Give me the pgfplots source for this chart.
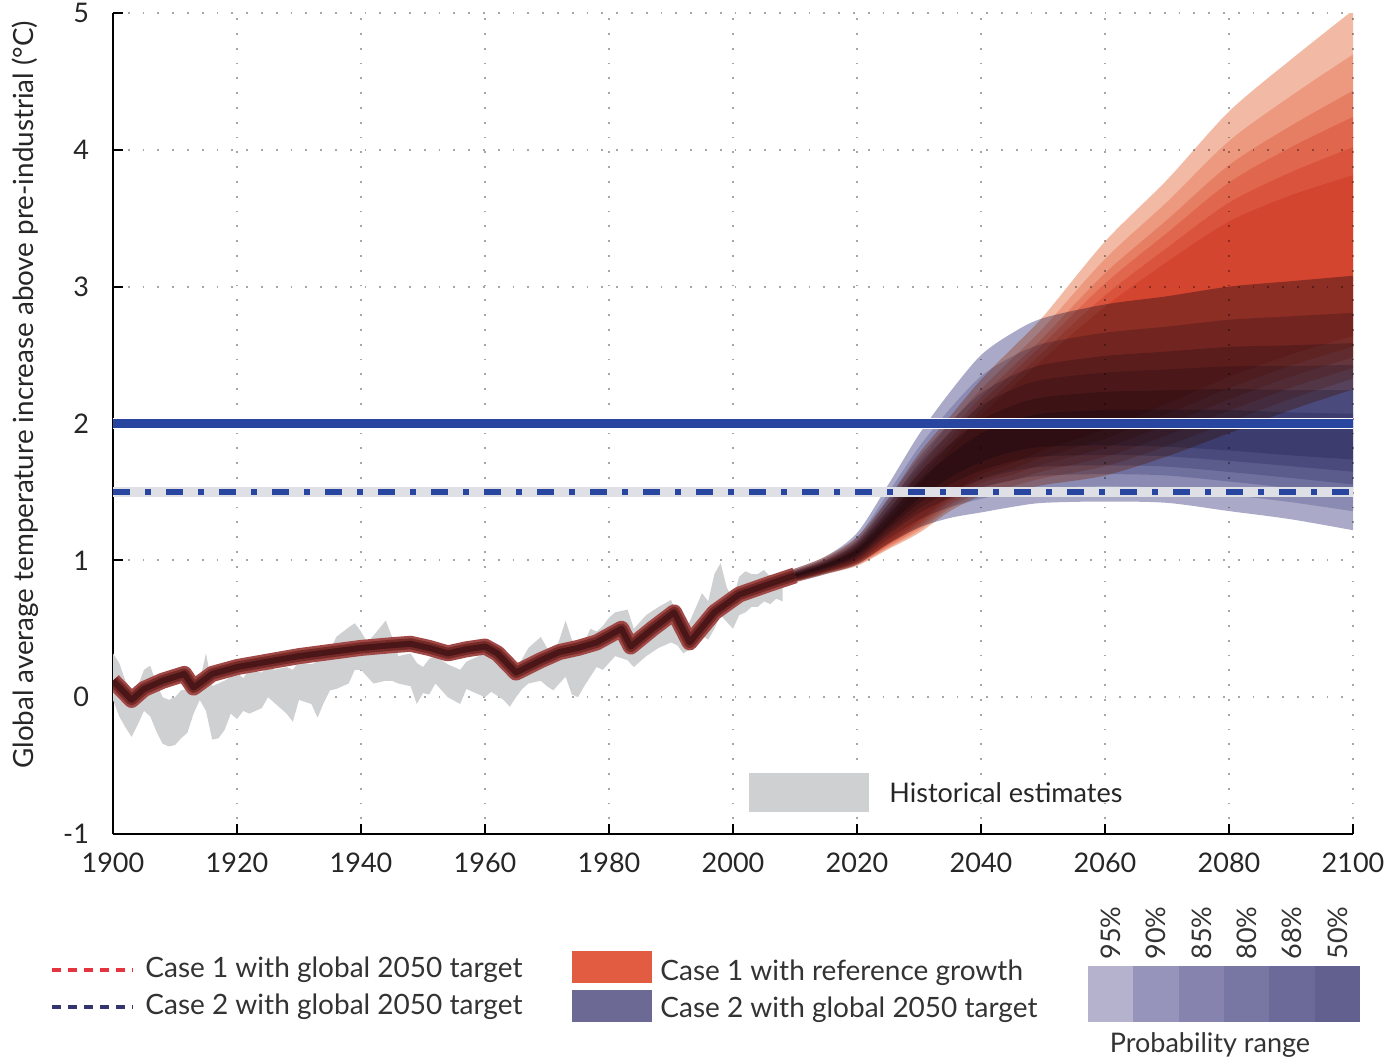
\documentclass[border=0pt]{standalone}
\usepackage{fontspec}
\setmainfont{Lato}
\usepackage{pgfplots}
\pgfplotsset{compat=1.18}
\usepackage{pgfplotstable}
\usepgfplotslibrary{fillbetween}

\definecolor{r1}{RGB}{242,186,164}
\definecolor{rL}{RGB}{249,210,200}
\definecolor{b1}{RGB}{170,170,200}
\definecolor{bL}{RGB}{208,208,227}
\definecolor{histgray}{RGB}{206,208,210}
\definecolor{modelout}{RGB}{160,72,70}
\definecolor{modelmid}{RGB}{118,42,40}
\definecolor{modelin}{RGB}{74,22,24}
\definecolor{lineblue}{RGB}{40,70,160}
\definecolor{dashbg}{RGB}{222,224,230}
\definecolor{legred}{RGB}{226,92,66}
\definecolor{legblue}{RGB}{108,106,148}
\definecolor{dashred}{RGB}{228,52,62}
\definecolor{dashblue}{RGB}{52,52,110}
\definecolor{p95}{RGB}{180,178,204}
\definecolor{p90}{RGB}{150,148,186}
\definecolor{p85}{RGB}{134,132,174}
\definecolor{p80}{RGB}{120,118,162}
\definecolor{p68}{RGB}{108,106,152}
\definecolor{p50}{RGB}{98,96,142}

% Case 1 with reference growth: probability ranges
\pgfplotstableread{
yr l95 u95 l90 u90 l85 u85 l80 u80 l68 u68 l50 u50
2005 0.79 0.87 0.792 0.86 0.795 0.854 0.797 0.849 0.80 0.843 0.802 0.837
2010 0.84 0.94 0.843 0.929 0.846 0.92 0.849 0.914 0.852 0.906 0.855 0.899
2015 0.90 1.03 0.904 1.015 0.907 1.002 0.911 0.993 0.914 0.982 0.918 0.973
2020 0.96 1.17 0.966 1.146 0.972 1.126 0.978 1.112 0.984 1.095 0.99 1.08
2025 1.08 1.45 1.09 1.406 1.10 1.37 1.111 1.344 1.121 1.314 1.131 1.286
2030 1.2 1.78 1.218 1.718 1.236 1.668 1.254 1.632 1.272 1.59 1.29 1.55
2035 1.36 2.05 1.383 2.0 1.406 1.94 1.43 1.891 1.453 1.846 1.476 1.804
2040 1.47 2.32 1.502 2.25 1.534 2.192 1.565 2.15 1.597 2.102 1.629 2.058
2045 1.5 2.55 1.542 2.473 1.584 2.41 1.626 2.365 1.668 2.312 1.71 2.263
2050 1.55 2.78 1.601 2.696 1.652 2.628 1.703 2.579 1.754 2.522 1.805 2.468
2060 1.62 3.33 1.688 3.202 1.756 3.098 1.823 3.023 1.891 2.936 1.959 2.854
2070 1.76 3.78 1.837 3.619 1.915 3.488 1.992 3.393 2.07 3.284 2.147 3.181
2080 1.93 4.28 2.012 4.064 2.094 3.888 2.177 3.761 2.259 3.614 2.341 3.476
2090 2.1 4.66 2.181 4.394 2.262 4.176 2.343 4.019 2.424 3.837 2.505 3.668
2100 2.25 5.02 2.328 4.697 2.406 4.432 2.484 4.241 2.562 4.02 2.64 3.815
}\redfan

% Case 2 with global 2050 target: probability ranges
\pgfplotstableread{
yr l95 u95 l90 u90 l85 u85 l80 u80 l68 u68 l50 u50
2005 0.79 0.87 0.80 0.86 0.806 0.854 0.811 0.849 0.817 0.843 0.823 0.837
2010 0.84 0.94 0.851 0.929 0.86 0.92 0.866 0.914 0.874 0.906 0.881 0.899
2015 0.90 1.03 0.913 1.015 0.924 1.002 0.932 0.993 0.941 0.982 0.949 0.973
2020 0.97 1.2 0.99 1.169 1.006 1.144 1.018 1.126 1.031 1.105 1.044 1.085
2025 1.12 1.55 1.155 1.491 1.184 1.442 1.205 1.407 1.229 1.366 1.251 1.329
2030 1.24 1.92 1.297 1.828 1.344 1.752 1.378 1.697 1.417 1.634 1.453 1.576
2035 1.31 2.23 1.389 2.107 1.454 2.006 1.501 1.933 1.555 1.849 1.605 1.771
2040 1.35 2.5 1.449 2.346 1.53 2.22 1.589 2.129 1.656 2.024 1.719 1.926
2045 1.39 2.66 1.498 2.488 1.586 2.348 1.65 2.247 1.723 2.13 1.792 2.02
2050 1.42 2.77 1.53 2.583 1.62 2.43 1.685 2.32 1.76 2.192 1.83 2.073
2060 1.43 2.87 1.54 2.663 1.63 2.494 1.695 2.372 1.77 2.231 1.84 2.099
2070 1.42 2.93 1.53 2.708 1.62 2.526 1.685 2.395 1.76 2.243 1.83 2.102
2080 1.36 3.0 1.479 2.758 1.576 2.56 1.646 2.417 1.727 2.252 1.803 2.098
2090 1.3 3.04 1.425 2.783 1.528 2.572 1.602 2.42 1.688 2.244 1.767 2.081
2100 1.22 3.08 1.359 2.809 1.472 2.588 1.554 2.428 1.648 2.244 1.737 2.071
}\bluefan

\pgfplotstableread{
yr t
1900 0.12
1903 -0.02
1905 0.06
1908 0.12
1911.5 0.17
1913 0.07
1916 0.17
1920 0.22
1925 0.26
1930 0.30
1935 0.33
1940 0.36
1945 0.38
1948 0.39
1951 0.36
1954 0.32
1957 0.35
1960 0.37
1962 0.32
1965 0.18
1969 0.27
1972 0.33
1975 0.36
1978 0.40
1982 0.50
1983.5 0.37
1987 0.50
1990.5 0.62
1993 0.40
1997 0.62
2001 0.75
2006 0.83
2010 0.89
}\modeltab

\pgfplotstableread{
yr lo hi
1900 -0.02 0.32
1901 -0.14 0.25
1902 -0.22 0.12
1903 -0.29 0.05
1904 -0.2 0.08
1905 -0.1 0.20
1906 -0.14 0.23
1907 -0.25 0.10
1908 -0.34 0.0
1909 -0.36 -0.02
1910 -0.35 0.0
1911 -0.3 0.05
1912 -0.26 0.06
1913 -0.12 0.08
1914 -0.02 0.12
1915 -0.1 0.32
1916 -0.31 0.08
1917 -0.3 0.1
1918 -0.24 0.12
1919 -0.12 0.15
1920 -0.16 0.18
1921 -0.1 0.14
1922 -0.12 0.2
1924 -0.08 0.18
1925 0.0 0.22
1926 -0.04 0.2
1928 -0.12 0.22
1929 -0.18 0.2
1930 -0.02 0.26
1932 -0.05 0.24
1933 -0.15 0.26
1934 -0.04 0.28
1935 0.05 0.34
1936 0.06 0.44
1938 0.1 0.51
1939 0.2 0.54
1940 0.2 0.48
1941 0.15 0.4
1942 0.1 0.45
1944 0.12 0.56
1945 0.12 0.44
1946 0.1 0.3
1948 0.08 0.32
1949 -0.05 0.25
1950 0.03 0.22
1951 0.02 0.28
1952 0.1 0.3
1954 0.0 0.24
1956 -0.05 0.2
1957 0.06 0.26
1959 0.02 0.3
1960 0.0 0.35
1961 0.04 0.38
1963 -0.02 0.3
1964 -0.07 0.24
1965 0.0 0.2
1966 0.06 0.28
1967 0.1 0.36
1969 0.12 0.44
1970 0.08 0.36
1971 0.05 0.3
1972 0.1 0.42
1973 0.15 0.56
1974 0.02 0.42
1975 0.0 0.34
1976 0.08 0.4
1977 0.15 0.5
1978 0.22 0.48
1979 0.2 0.52
1980 0.25 0.58
1981 0.3 0.62
1983 0.27 0.64
1984 0.22 0.5
1986 0.3 0.6
1988 0.36 0.66
1990 0.4 0.71
1991 0.38 0.6
1992 0.32 0.5
1993 0.35 0.55
1995 0.45 0.76
1996 0.42 0.7
1997 0.5 0.9
1998 0.6 0.98
1999 0.55 0.8
2000 0.5 0.72
2001 0.6 0.88
2002 0.62 0.92
2003 0.66 0.9
2004 0.66 0.9
2005 0.7 0.93
2006 0.68 0.88
2007 0.72 0.9
2008 0.7 0.86
}\histtab

\begin{document}
\begin{tikzpicture}
\begin{axis}[
  at={(0,0)}, anchor=south west,
  scale only axis, width=620pt, height=410.5pt,
  xmin=1900, xmax=2100, ymin=-1, ymax=5,
  enlargelimits=false,
  axis x line*=bottom, axis y line*=left,
  x axis line style={-, line width=1pt},
  y axis line style={-, line width=1pt},
  xtick={1900,1920,...,2100},
  ytick={-1,0,...,5},
  tick align=inside,
  major tick length=5pt,
  tick style={black, line width=0.9pt},
  grid=major,
  grid style={gray!70, line width=0.9pt, dash pattern=on 0.9pt off 6.5pt},
  /pgf/number format/assume math mode=true,
  xticklabel style={/pgf/number format/1000 sep={}, font=\fontsize{13.5}{16}\selectfont, color=black!85, yshift=-6pt},
  yticklabel style={font=\fontsize{13.5}{16}\selectfont, color=black!85, xshift=-8.5pt},
  ylabel={Global average temperature increase above pre-industrial (°C)},
  every axis y label/.style={at={(axis description cs:0,0.535)}, xshift=-44pt, rotate=90, anchor=center,
    font=\fontsize{13.9}{16}\selectfont, text=black!85},
  clip=true,
]
% historical estimates
\addplot[draw=none, forget plot, name path=hlo] table[x=yr, y=lo] {\histtab};
\addplot[draw=none, forget plot, name path=hhi] table[x=yr, y=hi] {\histtab};
\addplot[fill=histgray, draw=none, forget plot] fill between[of=hhi and hlo];

% fan boundaries
\pgfplotsinvokeforeach{95,90,85,80,68,50}{
  \addplot[draw=none, forget plot, smooth, name path=rl#1] table[x=yr, y=l#1] {\redfan};
  \addplot[draw=none, forget plot, smooth, name path=ru#1] table[x=yr, y=u#1] {\redfan};
  \addplot[draw=none, forget plot, smooth, name path=bl#1] table[x=yr, y=l#1] {\bluefan};
  \addplot[draw=none, forget plot, smooth, name path=bu#1] table[x=yr, y=u#1] {\bluefan};
}
% blue fan (Case 2 with global 2050 target)
\addplot[fill=b1, draw=none, forget plot, blend mode=multiply] fill between[of=bu95 and bl95];
\pgfplotsinvokeforeach{90,85,80,68,50}{
  \addplot[fill=bL, draw=none, forget plot, blend mode=multiply] fill between[of=bu#1 and bl#1];
}
% red fan (Case 1 with reference growth)
\addplot[fill=r1, draw=none, forget plot, blend mode=multiply] fill between[of=ru95 and rl95];
\pgfplotsinvokeforeach{90,85,80,68,50}{
  \addplot[fill=rL, draw=none, forget plot, blend mode=multiply] fill between[of=ru#1 and rl#1];
}

% modelled historical band
\addplot[modelout, line width=8pt, line join=round, forget plot] table[x=yr, y=t] {\modeltab};
\addplot[modelmid, line width=5.5pt, line join=round, forget plot] table[x=yr, y=t] {\modeltab};
\addplot[modelin, line width=3pt, line join=round, forget plot] table[x=yr, y=t] {\modeltab};

% 2 degree and 1.5 degree lines
\addplot[white, line width=5.8pt, forget plot] coordinates {(1900,2) (2100,2)};
\addplot[lineblue, line width=4.2pt, forget plot] coordinates {(1900,2) (2100,2)};
\addplot[dashbg, line width=5pt, forget plot] coordinates {(1900,1.5) (2100,1.5)};
\addplot[lineblue, line width=2.6pt, dash pattern=on 8.5pt off 7.5pt on 3pt off 7.5pt, forget plot] coordinates {(1900,1.5) (2100,1.5)};
\end{axis}

% legend inside plot
\fill[histgray] (318pt,11pt) rectangle (378pt,30.5pt);
\node[anchor=west, font=\fontsize{13.5}{16}\selectfont, text=black!85, inner sep=0pt] at (388pt,20.5pt) {Historical estimates};

% legend below
\begin{scope}[font=\fontsize{14}{16}\selectfont]
\draw[dashred, line width=1.6pt, dash pattern=on 4.5pt off 3.5pt] (-30.5pt,-68pt) -- (10pt,-68pt);
\node[anchor=west, inner sep=0pt, text=black!80] at (16pt,-68pt) {Case 1 with global 2050 target};
\draw[dashblue, line width=1.6pt, dash pattern=on 4.5pt off 3.5pt] (-30.5pt,-86.5pt) -- (10pt,-86.5pt);
\node[anchor=west, inner sep=0pt, text=black!80] at (16pt,-86.5pt) {Case 2 with global 2050 target};

\fill[legred] (229.5pt,-58.5pt) rectangle (269.5pt,-74.5pt);
\fill[legblue] (229.5pt,-78pt) rectangle (269.5pt,-94pt);
\node[anchor=west, inner sep=0pt, text=black!80] at (273.5pt,-69.5pt) {Case 1 with reference growth};
\node[anchor=west, inner sep=0pt, text=black!80] at (273.5pt,-88pt) {Case 2 with global 2050 target};
\end{scope}
\begin{scope}[font=\fontsize{13.5}{16}\selectfont]
\fill[p95] (487.5pt,-66pt) rectangle ++(22.67pt,-28pt);
\fill[p90] (510.17pt,-66pt) rectangle ++(22.67pt,-28pt);
\fill[p85] (532.83pt,-66pt) rectangle ++(22.67pt,-28pt);
\fill[p80] (555.5pt,-66pt) rectangle ++(22.67pt,-28pt);
\fill[p68] (578.17pt,-66pt) rectangle ++(22.67pt,-28pt);
\fill[p50] (600.83pt,-66pt) rectangle ++(22.67pt,-28pt);
\node[rotate=90, anchor=west, inner sep=0pt, text=black!80] at (498.8pt,-63pt) {95\%};
\node[rotate=90, anchor=west, inner sep=0pt, text=black!80] at (521.5pt,-63pt) {90\%};
\node[rotate=90, anchor=west, inner sep=0pt, text=black!80] at (544.2pt,-63pt) {85\%};
\node[rotate=90, anchor=west, inner sep=0pt, text=black!80] at (566.8pt,-63pt) {80\%};
\node[rotate=90, anchor=west, inner sep=0pt, text=black!80] at (589.5pt,-63pt) {68\%};
\node[rotate=90, anchor=west, inner sep=0pt, text=black!80] at (612.2pt,-63pt) {50\%};
\node[inner sep=0pt, text=black!80] at (548.5pt,-105.5pt) {Probability range};
\end{scope}

\pgfresetboundingbox
\useasboundingbox (-56.5pt,-114pt) rectangle (636.5pt,417pt);
\end{tikzpicture}
\end{document}
